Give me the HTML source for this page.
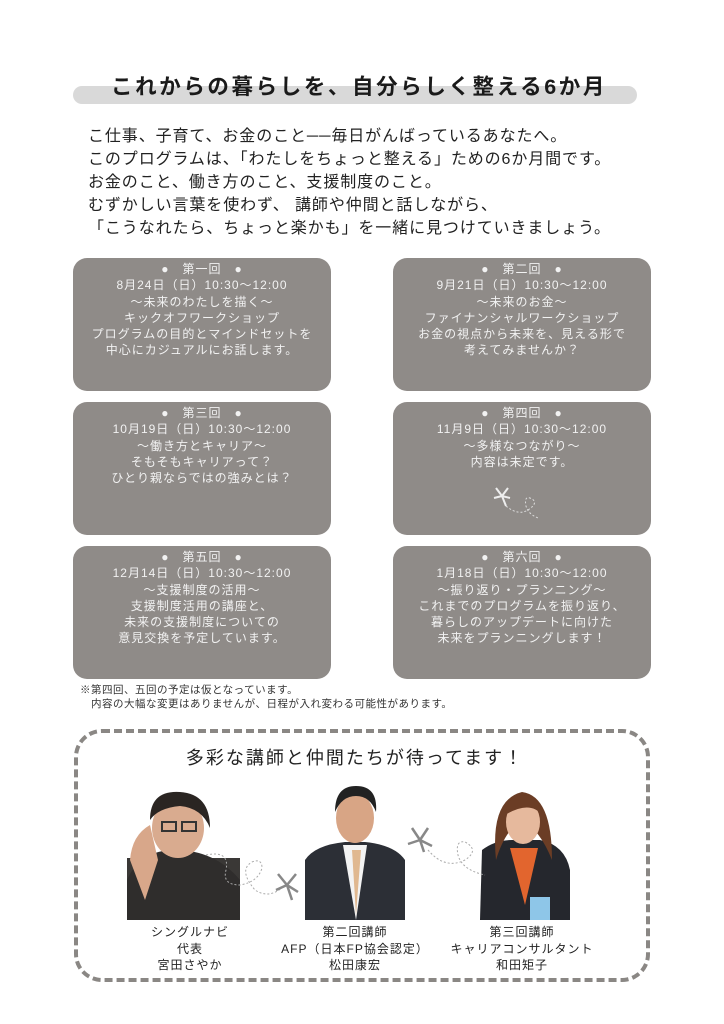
<!DOCTYPE html>
<html><head><meta charset="utf-8"><style>
*{margin:0;padding:0;box-sizing:border-box}
body{width:724px;height:1024px;background:#fff;position:relative;overflow:hidden;font-family:"Liberation Sans","Noto Sans CJK JP",sans-serif;color:#222}
.bar{position:absolute;left:73px;top:86px;width:564px;height:18px;background:#d9d9d9;border-radius:9px}
.title{position:absolute;left:0;width:718px;top:70px;text-align:center;font-size:21.5px;font-weight:bold;letter-spacing:2.6px;color:#1a1a1a}
.intro{position:absolute;left:88px;top:125px;font-size:16px;line-height:23px;letter-spacing:0.9px;color:#222}
.box{position:absolute;width:258px;height:133px;background:#8f8b88;border-radius:14px;color:#f2f2f2;text-align:center;font-size:12px;line-height:16.3px;letter-spacing:1px;padding-top:3px}
.note{position:absolute;left:80px;top:683px;font-size:10.5px;line-height:14px;letter-spacing:0.5px;color:#333}
.dash{position:absolute;left:74px;top:729px;width:576px;height:253px;border:4px dashed #8a8784;border-radius:28px}
.sub{position:absolute;left:0;width:710px;top:744px;text-align:center;font-size:18px;letter-spacing:2px}
.cap{position:absolute;text-align:center;font-size:12px;line-height:16.5px;letter-spacing:1px;color:#222}
</style></head><body>
<div class="bar"></div>
<div class="title">これからの暮らしを、自分らしく整える6か月</div>
<div class="intro">こ仕事、子育て、お金のこと──毎日がんばっているあなたへ。<br>このプログラムは、「わたしをちょっと整える」ための6か月間です。<br>お金のこと、働き方のこと、支援制度のこと。<br>むずかしい言葉を使わず、 講師や仲間と話しながら、<br>「こうなれたら、ちょっと楽かも」を一緒に見つけていきましょう。</div>

<div class="box" style="left:73px;top:258px">●　第一回　●<br>8月24日（日）10:30〜12:00<br>〜未来のわたしを描く〜<br>キックオフワークショップ<br>プログラムの目的とマインドセットを<br>中心にカジュアルにお話します。</div>
<div class="box" style="left:393px;top:258px">●　第二回　●<br>9月21日（日）10:30〜12:00<br>〜未来のお金〜<br>ファイナンシャルワークショップ<br>お金の視点から未来を、見える形で<br>考えてみませんか？</div>
<div class="box" style="left:73px;top:402px">●　第三回　●<br>10月19日（日）10:30〜12:00<br>〜働き方とキャリア〜<br>そもそもキャリアって？<br>ひとり親ならではの強みとは？</div>
<div class="box" style="left:393px;top:402px">●　第四回　●<br>11月9日（日）10:30〜12:00<br>〜多様なつながり〜<br>内容は未定です。
<svg width="60" height="40" style="position:absolute;left:95px;top:82px"><path d="M14 12 L8 4 M14 12 L20 4 M14 12 L6 14 M14 12 L22 14 M14 12 L18 22" stroke="#eee" stroke-width="2"/><path d="M18 22 Q30 32 40 26 Q52 18 42 14 Q36 12 38 22 Q40 30 50 34" stroke="#ddd" stroke-dasharray="2 2" fill="none"/></svg></div>
<div class="box" style="left:73px;top:546px">●　第五回　●<br>12月14日（日）10:30〜12:00<br>〜支援制度の活用〜<br>支援制度活用の講座と、<br>未来の支援制度についての<br>意見交換を予定しています。</div>
<div class="box" style="left:393px;top:546px">●　第六回　●<br>1月18日（日）10:30〜12:00<br>〜振り返り・プランニング〜<br>これまでのプログラムを振り返り、<br>暮らしのアップデートに向けた<br>未来をプランニングします！</div>

<div class="note">※第四回、五回の予定は仮となっています。<br>　内容の大幅な変更はありませんが、日程が入れ変わる可能性があります。</div>
<div class="dash"></div>
<div class="sub">多彩な講師と仲間たちが待ってます！</div>

<svg width="724" height="1024" style="position:absolute;left:0;top:0">
<rect x="127" y="858" width="113" height="62" fill="#3a3836"/>
<path d="M127 920 L127 880 Q140 850 175 850 Q215 850 240 880 L240 920Z" fill="#2f2d2c"/>
<path d="M130 860 Q132 835 150 825 L158 860 L145 900 Z" fill="#d8a78a"/>
<ellipse cx="178" cy="828" rx="26" ry="30" fill="#d9ab8f"/>
<path d="M150 820 Q150 790 180 792 Q210 794 210 828 Q202 808 180 806 Q158 808 150 820Z" fill="#2a2522"/>
<rect x="162" y="822" width="14" height="9" fill="none" stroke="#333" stroke-width="2"/><rect x="182" y="822" width="14" height="9" fill="none" stroke="#333" stroke-width="2"/>
<path d="M305 920 L305 860 Q315 845 345 842 L365 842 Q395 845 405 860 L405 920Z" fill="#2c2f36"/>
<path d="M343 845 L356 920 L367 845Z" fill="#f3f3f3"/><path d="M352 850 L356 915 L361 850Z" fill="#e0b890"/>
<ellipse cx="355" cy="818" rx="19" ry="25" fill="#d8a585"/>
<path d="M335 812 Q335 786 356 786 Q378 786 376 812 Q370 796 356 796 Q342 796 335 812Z" fill="#222"/>
<path d="M480 920 L482 850 Q495 840 512 840 L540 840 Q565 845 570 870 L570 920Z" fill="#25272d"/>
<path d="M510 848 L525 905 L538 848Z" fill="#e2652e"/>
<rect x="530" y="897" width="20" height="23" fill="#8ec6e8"/>
<path d="M496 860 Q490 800 522 792 Q552 796 552 860 Q540 830 522 820 Q505 830 496 860Z" fill="#6b3d25"/>
<ellipse cx="523" cy="822" rx="17" ry="22" fill="#e6b99d"/>
<path d="M505 815 Q508 795 523 795 Q540 795 542 815 Q530 800 505 815Z" fill="#6b3d25"/>
<path d="M206 855 Q230 850 226 870 Q222 885 240 885 Q258 882 262 868 Q262 858 252 862 Q238 870 255 890 Q270 900 285 885" stroke="#aaa" stroke-dasharray="2 2" fill="none"/>
<path d="M287 885 L278 874 M287 885 L296 874 M287 885 L276 890 M287 885 L298 892 M287 885 L292 900" stroke="#888" stroke-width="2.5"/>
<path d="M420 840 L412 828 M420 840 L428 828 M420 840 L408 844 M420 840 L432 846 M420 840 L424 852" stroke="#888" stroke-width="2.5"/>
<path d="M428 850 Q445 870 465 860 Q480 850 465 842 Q455 840 458 855 Q462 870 485 875" stroke="#aaa" stroke-dasharray="2 2" fill="none"/>
</svg>
<div class="cap" style="left:105px;width:170px;top:924px">シングルナビ<br>代表<br>宮田さやか</div>
<div class="cap" style="left:270px;width:170px;top:924px">第二回講師<br>AFP（日本FP協会認定）<br>松田康宏</div>
<div class="cap" style="left:437px;width:170px;top:924px">第三回講師<br>キャリアコンサルタント<br>和田矩子</div>
</body></html>
